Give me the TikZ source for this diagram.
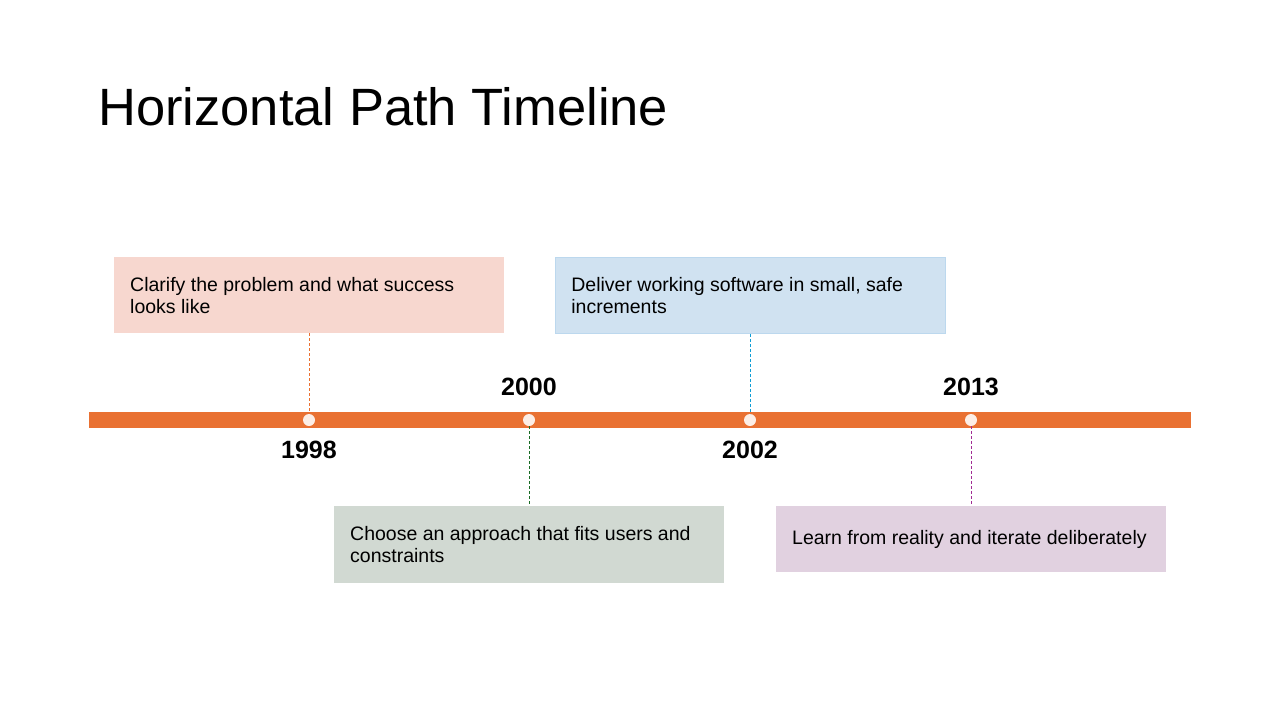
\documentclass[tikz,border=0pt]{standalone}
\usepackage{fontspec}
\setmainfont{Liberation Sans}
\newcommand{\boxfont}{\fontsize{19.5}{22}\selectfont\hyphenpenalty=10000\relax\exhyphenpenalty=10000\relax}
\definecolor{barorange}{HTML}{E97132}
\definecolor{dotfill}{HTML}{FCEEE6}
\definecolor{pinkbox}{HTML}{F7D7CF}
\definecolor{bluebox}{HTML}{D0E2F1}
\definecolor{blueedge}{HTML}{BCD8EE}
\definecolor{greenbox}{HTML}{D1D9D2}
\definecolor{purplebox}{HTML}{E1D1E0}
\definecolor{cgreen}{HTML}{196B24}
\definecolor{cblue}{HTML}{0F9ED5}
\definecolor{cpurple}{HTML}{A02B93}
\tikzset{
  evbox/.style={draw=none, minimum width=390pt, text width=358pt, inner xsep=16pt, inner ysep=0pt, align=flush left, anchor=north west, font=\boxfont},
  year/.style={font=\fontsize{25}{28}\selectfont\bfseries},
  dotmark/.style={circle, fill=dotfill, minimum size=12pt, inner sep=0pt},
  link/.style={dashed, dash pattern=on 3pt off 2pt, line width=1pt}
}
\begin{document}
\begin{tikzpicture}[x=1pt,y=-1pt]
\useasboundingbox (0,0) rectangle (1280,720);
\node[anchor=base west, font=\fontsize{52.5}{60}\selectfont, inner sep=0pt] (title) at (98,125) {Horizontal Path Timeline};
% bar
\fill[barorange] (89,412) rectangle (1191,428);
\node[dotmark] (d1) at (309,420) {};
\node[dotmark] (d2) at (529,420) {};
\node[dotmark] (d3) at (750,420) {};
\node[dotmark] (d4) at (971,420) {};
% boxes
\node[evbox, fill=pinkbox, minimum height=76pt] (b1) at (114,257) {Clarify the problem and what success looks like};
\node[evbox, fill=bluebox, draw=blueedge, line width=0.8pt, minimum height=76pt] (b3) at (555,257) {Deliver working software in small, safe increments};
\node[evbox, fill=greenbox, minimum height=77pt] (b2) at (334,506) {Choose an approach that fits users and constraints};
\node[evbox, fill=purplebox, minimum height=66pt] (b4) at (776,506) {Learn from reality and iterate deliberately};
% years
\node[year] (y1) at (309,450) {1998};
\node[year] (y2) at (529,387) {2000};
\node[year] (y3) at (750,450) {2002};
\node[year] (y4) at (971,387) {2013};
% connectors
\draw[link, draw=barorange] (b1.south -| d1) -- (d1.north);
\draw[link, draw=cgreen] (d2.south) -- (b2.north -| d2);
\draw[link, draw=cblue] (b3.south -| d3) -- (d3.north);
\draw[link, draw=cpurple] (d4.south) -- (b4.north -| d4);
\end{tikzpicture}
\end{document}
